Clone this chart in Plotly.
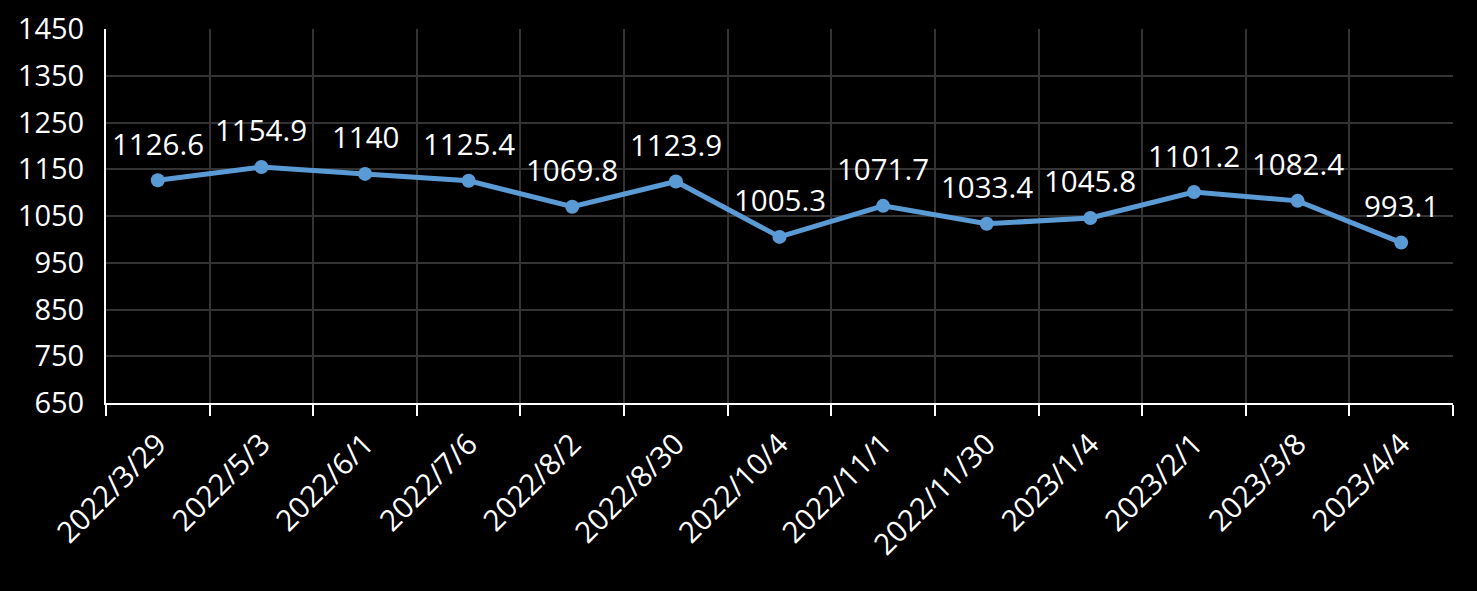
import plotly.graph_objects as go

dates = ["2022/3/29", "2022/5/3", "2022/6/1", "2022/7/6", "2022/8/2", "2022/8/30",
         "2022/10/4", "2022/11/1", "2022/11/30", "2023/1/4", "2023/2/1", "2023/3/8", "2023/4/4"]
values = [1126.6, 1154.9, 1140, 1125.4, 1069.8, 1123.9, 1005.3, 1071.7, 1033.4,
          1045.8, 1101.2, 1082.4, 993.1]
labels = ["1126.6", "1154.9", "1140", "1125.4", "1069.8", "1123.9", "1005.3", "1071.7",
          "1033.4", "1045.8", "1101.2", "1082.4", "993.1"]
y_ticks = [650, 750, 850, 950, 1050, 1150, 1250, 1350, 1450]

FONT = "Open Sans"
fig = go.Figure()
fig.add_trace(go.Scatter(
    x=dates, y=values, mode="lines+markers",
    line=dict(color="#5B9BD5", width=5),
    marker=dict(color="#5B9BD5", size=14),
    hoverinfo="skip", showlegend=False,
))
for d, v, t in zip(dates, values, labels):
    fig.add_annotation(x=d, y=v, text=t, showarrow=False, yshift=37,
                       font=dict(family=FONT, size=29.5, color="white"))

fig.update_layout(
    width=1477, height=591,
    margin=dict(l=106, r=24, t=29, b=188),
    paper_bgcolor="black", plot_bgcolor="black",
    font=dict(family=FONT, size=29, color="white"),
)
fig.update_xaxes(
    type="category", categoryorder="array", categoryarray=dates,
    tickson="boundaries", ticks="outside", ticklen=11, tickwidth=2, tickcolor="white",
    showline=True, linecolor="white", linewidth=2,
    showgrid=True, gridcolor="#333333", gridwidth=1.5,
    tickangle=-45, tickfont=dict(family=FONT, size=29.5, color="white"),
    range=[-0.5, 12.5], automargin=False, ticklabelstandoff=10,
)
fig.update_yaxes(
    range=[650, 1450], tickvals=y_ticks, ticktext=[str(v) for v in y_ticks],
    showline=True, linecolor="white", linewidth=2, ticks="",
    showgrid=True, gridcolor="#333333", gridwidth=1.5, zeroline=False,
    tickfont=dict(family=FONT, size=29, color="white"), ticklabelstandoff=14,
    automargin=False,
)
fig.write_html("out.html")
